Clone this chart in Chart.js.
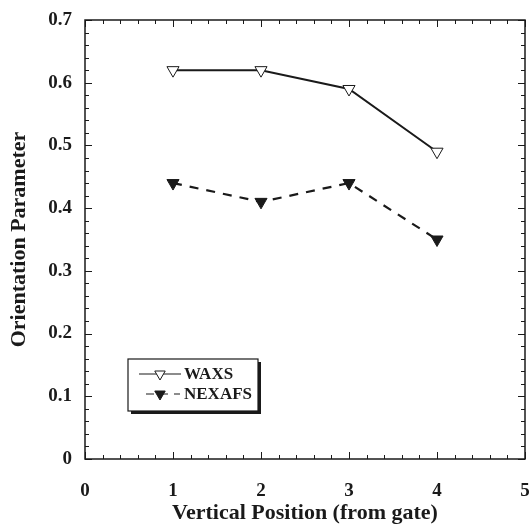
<!DOCTYPE html>
<html lang="en">
<head>
  <meta charset="UTF-8" />
  <title>Orientation Parameter</title>
  <script src="https://cdn.jsdelivr.net/npm/chart.js"></script>
  <style>
    body { margin: 0; background: #fff; overflow: hidden; }
    #wrap { width: 530px; height: 527px; overflow: hidden; }
  </style>
</head>
<body>
<div id="wrap"><canvas id="grafico" width="533" height="527"></canvas></div>
<script>
  const posiciones = [1, 2, 3, 4];
  const waxs = [0.62, 0.62, 0.59, 0.49];
  const nexafs = [0.44, 0.41, 0.44, 0.35];

  const fuente = '"Liberation Serif", "Times New Roman", serif';
  const tinta = '#1a1a1a';

  // ticks hacia dentro en los cuatro lados + marco
  const ticksDentro = {
    id: 'ticksDentro',
    afterDraw(chart) {
      const { ctx, chartArea: a, scales: { x, y } } = chart;
      ctx.save();
      ctx.strokeStyle = tinta;
      ctx.lineWidth = 1;
      ctx.beginPath();
      for (let i = 0; i <= 25; i++) {
        const px = Math.round(x.getPixelForValue(i * 0.2)) + 0.5;
        const len = i % 5 === 0 ? 7 : 4;
        ctx.moveTo(px, a.bottom); ctx.lineTo(px, a.bottom - len);
        ctx.moveTo(px, a.top); ctx.lineTo(px, a.top + len);
      }
      for (let i = 0; i <= 35; i++) {
        const py = Math.round(y.getPixelForValue(i * 0.02)) + 0.5;
        const len = i % 5 === 0 ? 7 : 4;
        ctx.moveTo(a.left, py); ctx.lineTo(a.left + len, py);
        ctx.moveTo(a.right, py); ctx.lineTo(a.right - len, py);
      }
      ctx.stroke();
      ctx.lineWidth = 1.5;
      ctx.strokeRect(a.left, a.top, a.right - a.left, a.bottom - a.top);
      ctx.restore();
    }
  };

  // leyenda en recuadro con sombra
  const leyenda = {
    id: 'leyendaCaja',
    afterDraw(chart) {
      const ctx = chart.ctx;
      const bx = 128, by = 359, bw = 130, bh = 52;
      ctx.save();
      ctx.fillStyle = tinta;
      ctx.fillRect(bx + 3, by + 3, bw, bh);
      ctx.fillStyle = '#fff';
      ctx.fillRect(bx, by, bw, bh);
      ctx.strokeStyle = tinta;
      ctx.lineWidth = 1.2;
      ctx.strokeRect(bx, by, bw, bh);

      const filas = [
        { ds: chart.data.datasets[0], y: 374, x0: 139, x1: 181, dash: [] },
        { ds: chart.data.datasets[1], y: 394, x0: 146, x1: 180, dash: [8, 6] }
      ];
      filas.forEach(f => {
        ctx.strokeStyle = tinta;
        ctx.lineWidth = 1.2;
        ctx.setLineDash(f.dash);
        ctx.beginPath();
        ctx.moveTo(f.x0, f.y); ctx.lineTo(f.x1, f.y);
        ctx.stroke();
        ctx.setLineDash([]);
        ctx.fillStyle = f.ds.pointBackgroundColor;
        ctx.strokeStyle = tinta;
        ctx.lineWidth = 1;
        ctx.beginPath();
        const r = 6;
        ctx.moveTo(160 - r * 0.87, f.y - r * 0.5);
        ctx.lineTo(160 + r * 0.87, f.y - r * 0.5);
        ctx.lineTo(160, f.y + r);
        ctx.closePath();
        ctx.fill();
        ctx.stroke();
        ctx.fillStyle = tinta;
        ctx.font = 'bold 17px ' + fuente;
        ctx.textBaseline = 'middle';
        ctx.fillText(f.ds.label, 184, f.y + 1);
      });
      ctx.restore();
    }
  };

  new Chart(document.getElementById('grafico').getContext('2d'), {
    type: 'line',
    data: {
      datasets: [{
        label: 'WAXS',
        data: posiciones.map((p, i) => ({ x: p, y: waxs[i] })),
        borderColor: tinta,
        borderWidth: 2,
        pointStyle: 'triangle',
        pointRotation: 180,
        pointRadius: 7,
        pointBackgroundColor: '#fff',
        pointBorderColor: tinta,
        pointBorderWidth: 1
      }, {
        label: 'NEXAFS',
        data: posiciones.map((p, i) => ({ x: p, y: nexafs[i] })),
        borderColor: tinta,
        borderWidth: 2.2,
        borderDash: [9, 8],
        pointStyle: 'triangle',
        pointRotation: 180,
        pointRadius: 7,
        pointBackgroundColor: tinta,
        pointBorderColor: tinta,
        pointBorderWidth: 1
      }]
    },
    options: {
      responsive: false,
      animation: false,
      layout: { padding: { top: 20, right: 0, left: 0, bottom: 0 } },
      plugins: {
        legend: { display: false },
        tooltip: { enabled: false }
      },
      scales: {
        x: {
          type: 'linear',
          min: 0, max: 5,
          grid: { display: false },
          border: { display: false },
          ticks: {
            stepSize: 1, color: tinta, padding: 13,
            font: { family: fuente, size: 19, weight: 'bold' }
          },
          title: {
            display: true, text: 'Vertical Position (from gate)', color: tinta,
            padding: { top: 6, bottom: 0 },
            font: { family: fuente, size: 22, weight: 'bold' }
          },
          afterFit(s) { s.height = 68; s.paddingLeft = 0; s.paddingRight = 0; }
        },
        y: {
          min: 0, max: 0.7,
          grid: { display: false },
          border: { display: false },
          ticks: {
            stepSize: 0.1, color: tinta, padding: 5,
            font: { family: fuente, size: 19, weight: 'bold' }
          },
          title: {
            display: true, text: 'Orientation Parameter', color: tinta,
            padding: { top: 6, bottom: 0 },
            font: { family: fuente, size: 22, weight: 'bold' }
          },
          afterFit(s) { s.width = 85; s.paddingTop = 0; s.paddingBottom = 0; }
        }
      }
    },
    plugins: [ticksDentro, leyenda]
  });
</script>
</body>
</html>
